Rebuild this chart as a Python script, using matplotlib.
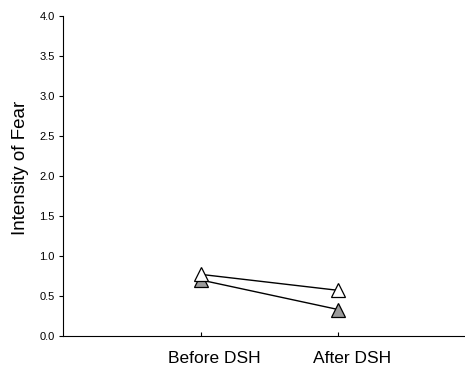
import matplotlib
matplotlib.use("Agg")
import matplotlib.pyplot as plt
import matplotlib.transforms as mtransforms

plt.rcParams['font.family'] = ['Liberation Sans', 'DejaVu Sans']

categories = ["Before DSH", "After DSH"]
series_white = [0.77, 0.57]
series_gray = [0.70, 0.33]
yticks = [0.0, 0.5, 1.0, 1.5, 2.0, 2.5, 3.0, 3.5, 4.0]

fig = plt.figure(figsize=(4.65, 3.68), dpi=100)
ax = fig.add_axes([0.1355, 0.087, 0.8645, 0.87])

x = [1, 2]
ax.plot(x, series_gray, color='black', lw=1.0, marker='^', markersize=9.5,
        markerfacecolor='#9a9a9a', markeredgecolor='black', markeredgewidth=0.9, zorder=2,
        clip_on=False)
ax.plot(x, series_white, color='black', lw=1.0, marker='^', markersize=9.5,
        markerfacecolor='white', markeredgecolor='black', markeredgewidth=0.9, zorder=3,
        clip_on=False)

ax.set_xlim(0, 2.92)
ax.set_ylim(0, 4.0)
ax.set_xticks(x)
ax.set_xticklabels([])
ax.set_yticks(yticks)
ax.set_yticklabels([f"{v:.1f}" for v in yticks], fontsize=8)
ax.set_ylabel("Intensity of Fear", fontsize=13.5)
ax.yaxis.set_label_coords(-0.085, 0.525)

# category labels, drawn slightly right of their ticks as in the reference
trans = ax.get_xaxis_transform() + mtransforms.ScaledTranslation(0.14, -0.146, fig.dpi_scale_trans)
for xi, cat in zip(x, categories):
    ax.text(xi, 0, cat, transform=trans, ha='center', va='top', fontsize=12.5)

for s in ['top', 'right']:
    ax.spines[s].set_visible(False)
ax.spines['left'].set_linewidth(0.8)
ax.spines['bottom'].set_linewidth(0.8)
ax.tick_params(axis='y', direction='out', length=3, width=0.8, pad=3)
ax.tick_params(axis='x', direction='in', length=3, width=0.8)

fig.savefig("out.png", dpi=100)
